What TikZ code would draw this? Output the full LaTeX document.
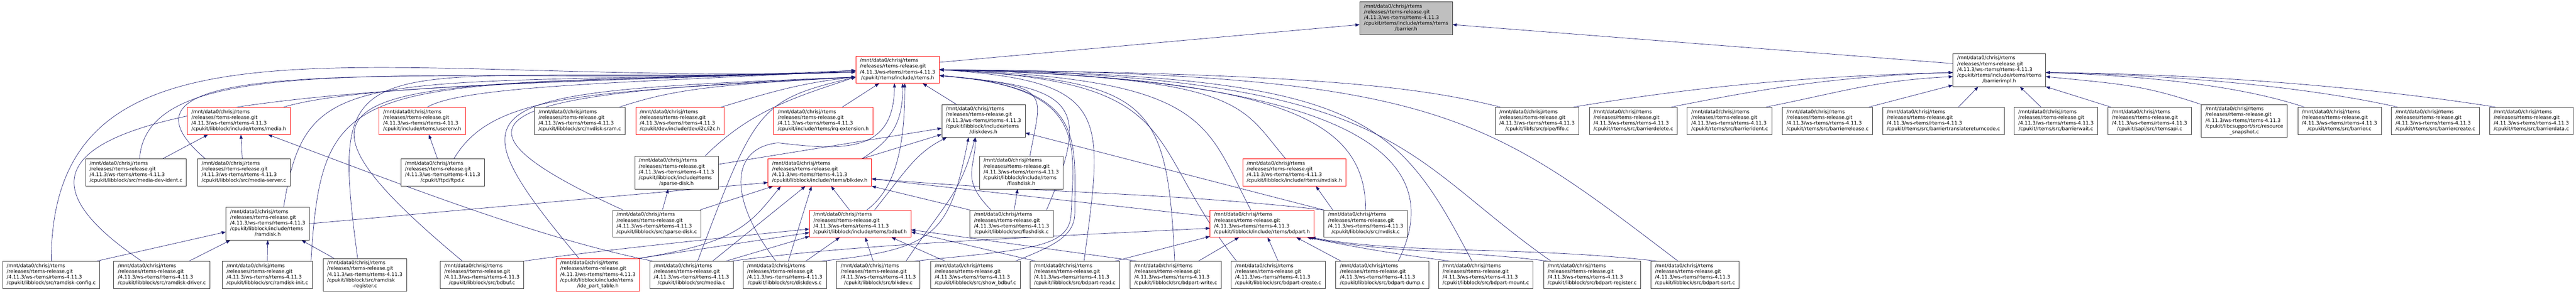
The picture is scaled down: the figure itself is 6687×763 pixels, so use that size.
\documentclass[tikz,border=0pt]{standalone}
\usepackage{fontspec}
\setmainfont{DejaVu Sans}
\usetikzlibrary{arrows.meta}

\definecolor{edgeblue}{HTML}{191970}
\definecolor{curgray}{HTML}{BFBFBF}
\pgfdeclarelayer{paper}
\pgfdeclarelayer{edges}
\pgfsetlayers{paper,edges,main}

% file label: three fixed lines, last line centred
\newcommand{\rtpath}[1]{\begin{tabular}{@{}l@{}}/mnt/data0/chrisj/rtems\\/releases/rtems-release.git\\/4.11.3/ws-rtems/rtems-4.11.3\\\multicolumn{1}{@{}c@{}}{#1}\end{tabular}}
\newcommand{\rtpathx}[2]{\begin{tabular}{@{}l@{}}/mnt/data0/chrisj/rtems\\/releases/rtems-release.git\\/4.11.3/ws-rtems/rtems-4.11.3\\#1\\\multicolumn{1}{@{}c@{}}{#2}\end{tabular}}

\tikzset{
  file/.style={draw=black!80, fill=white, rectangle, line width=0.75pt,
    inner xsep=8pt, inner ysep=4pt, font=\fontsize{9.6}{11.2}\selectfont},
  redfile/.style={file, draw=red},
  curfile/.style={file, fill=curgray},
  dep/.style={draw=edgeblue, line width=0.7pt, -{Triangle[length=8pt,width=6pt]}}
}

\begin{document}
\begin{tikzpicture}[x=0.75pt, y=0.75pt]
	\useasboundingbox (0,0) rectangle (6687,763);
	\begin{pgfonlayer}{paper}
		\fill[white] (0,0) rectangle (6687,763);
	\end{pgfonlayer}
	% top
		\node[curfile] (barrier) at (3650,716) {\rtpathx{/cpukit/rtems/include/rtems/rtems}{/barrier.h}};
		\node[redfile] (rtemsh) at (2330,582) {\rtpath{/cpukit/rtems/include/rtems.h}};
		\node[file] (barrierimpl) at (5190,581) {\rtpathx{/cpukit/rtems/include/rtems/rtems}{/barrierimpl.h}};
	% second row
		\node[redfile] (mediah) at (620,449) {\rtpath{/cpukit/libblock/include/rtems/media.h}};
		\node[redfile] (userenv) at (1096,449) {\rtpath{/cpukit/include/rtems/userenv.h}};
		\node[file] (nvsram) at (1505,449) {\rtpath{/cpukit/libblock/src/nvdisk-sram.c}};
		\node[redfile] (i2c) at (1765,449) {\rtpath{/cpukit/dev/include/dev/i2c/i2c.h}};
		\node[redfile] (irqext) at (2137,449) {\rtpath{/cpukit/include/rtems/irq-extension.h}};
		\node[file] (diskdevsh) at (2553,449) {\rtpathx{/cpukit/libblock/include/rtems}{/diskdevs.h}};
		\node[file] (fifo) at (3990,449) {\rtpath{/cpukit/libfs/src/pipe/fifo.c}};
		\node[file] (bdelete) at (4240,449) {\rtpath{/cpukit/rtems/src/barrierdelete.c}};
		\node[file] (bident) at (4490,449) {\rtpath{/cpukit/rtems/src/barrierident.c}};
		\node[file] (brelease) at (4744,449) {\rtpath{/cpukit/rtems/src/barrierrelease.c}};
		\node[file] (btrans) at (5045,449) {\rtpath{/cpukit/rtems/src/barriertranslatereturncode.c}};
		\node[file] (bwait) at (5337,449) {\rtpath{/cpukit/rtems/src/barrierwait.c}};
		\node[file] (rtemsapi) at (5580,449) {\rtpath{/cpukit/sapi/src/rtemsapi.c}};
		\node[file] (rsnap) at (5826,449) {\rtpathx{/cpukit/libcsupport/src/resource}{\_snapshot.c}};
		\node[file] (bbarrier) at (6073,449) {\rtpath{/cpukit/rtems/src/barrier.c}};
		\node[file] (bcreate) at (6322,449) {\rtpath{/cpukit/rtems/src/barriercreate.c}};
		\node[file] (bdata) at (6571,449) {\rtpath{/cpukit/rtems/src/barrierdata.c}};
	% third row
		\node[file] (mdident) at (353,315) {\rtpath{/cpukit/libblock/src/media-dev-ident.c}};
		\node[file] (mserver) at (633,315) {\rtpath{/cpukit/libblock/src/media-server.c}};
		\node[file] (ftpd) at (1149,315) {\rtpath{/cpukit/ftpd/ftpd.c}};
		\node[file] (sparseh) at (1756,315) {\rtpathx{/cpukit/libblock/include/rtems}{/sparse-disk.h}};
		\node[redfile] (blkdevh) at (2128,315) {\rtpath{/cpukit/libblock/include/rtems/blkdev.h}};
		\node[file] (flashh) at (2651,315) {\rtpathx{/cpukit/libblock/include/rtems}{/flashdisk.h}};
		\node[redfile] (nvdiskh) at (3360,315) {\rtpath{/cpukit/libblock/include/rtems/nvdisk.h}};
	% fourth row
		\node[file] (ramdiskh) at (695,182) {\rtpathx{/cpukit/libblock/include/rtems}{/ramdisk.h}};
		\node[file] (sparsec) at (1705,182) {\rtpath{/cpukit/libblock/src/sparse-disk.c}};
		\node[redfile] (bdbufh) at (2233,182) {\rtpath{/cpukit/libblock/include/rtems/bdbuf.h}};
		\node[file] (flashc) at (2626,182) {\rtpath{/cpukit/libblock/src/flashdisk.c}};
		\node[redfile] (bdparth) at (3276,182) {\rtpath{/cpukit/libblock/include/rtems/bdpart.h}};
		\node[file] (nvdiskc) at (3545,182) {\rtpath{/cpukit/libblock/src/nvdisk.c}};
	% bottom row
		\node[file] (rdconfig) at (133,49) {\rtpath{/cpukit/libblock/src/ramdisk-config.c}};
		\node[file] (rddriver) at (420,49) {\rtpath{/cpukit/libblock/src/ramdisk-driver.c}};
		\node[file] (rdinit) at (694,49) {\rtpath{/cpukit/libblock/src/ramdisk-init.c}};
		\node[file] (rdreg) at (947,49) {\rtpathx{/cpukit/libblock/src/ramdisk}{-register.c}};
		\node[file] (bdbufc) at (1251,49) {\rtpath{/cpukit/libblock/src/bdbuf.c}};
		\node[redfile] (idepart) at (1552,49) {\rtpathx{/cpukit/libblock/include/rtems}{/ide\_part\_table.h}};
		\node[file] (mediac) at (1795,49) {\rtpath{/cpukit/libblock/src/media.c}};
		\node[file] (ddevc) at (2037,49) {\rtpath{/cpukit/libblock/src/diskdevs.c}};
		\node[file] (blkdevc) at (2280,49) {\rtpath{/cpukit/libblock/src/blkdev.c}};
		\node[file] (showbdbuf) at (2532,49) {\rtpath{/cpukit/libblock/src/show\_bdbuf.c}};
		\node[file] (bpread) at (2790,49) {\rtpath{/cpukit/libblock/src/bdpart-read.c}};
		\node[file] (bpwrite) at (3052,49) {\rtpath{/cpukit/libblock/src/bdpart-write.c}};
		\node[file] (bpcreate) at (3318,49) {\rtpath{/cpukit/libblock/src/bdpart-create.c}};
		\node[file] (bpdump) at (3588,49) {\rtpath{/cpukit/libblock/src/bdpart-dump.c}};
		\node[file] (bpmount) at (3857,49) {\rtpath{/cpukit/libblock/src/bdpart-mount.c}};
		\node[file] (bpreg) at (4133,49) {\rtpath{/cpukit/libblock/src/bdpart-register.c}};
		\node[file] (bpsort) at (4400,49) {\rtpath{/cpukit/libblock/src/bdpart-sort.c}};

	\begin{pgfonlayer}{edges}
	% into barrier.h
		\draw[dep] (rtemsh.10) -- (barrier.188);
		\draw[dep] (barrierimpl.172) -- (barrier.352);
	% into rtems.h from the left
		\draw[dep] (rdconfig.north) .. controls +(0,700) and +(-1250,-40) .. (rtemsh.183);
		\draw[dep] ([xshift=-39pt]rddriver.north) .. controls +(-668,450) and +(-1150,-40) .. (rtemsh.183);
		\draw[dep] ([xshift=7pt]mdident.north) .. controls +(20,300) and +(-1100,-40) .. (rtemsh.183);
		\draw[dep] ([xshift=-75pt]mserver.north) .. controls +(-350,300) and +(-1000,-40) .. (rtemsh.183);
		\draw[dep] ([xshift=87pt]mediah.north) .. controls +(200,60) and +(-700,-30) .. (rtemsh.181);
		\draw[dep] ([xshift=31pt]ramdiskh.north) .. controls +(60,380) and +(-1300,-40) .. (rtemsh.183);
		\draw[dep] ([xshift=85pt]rdinit.north) .. controls +(30,500) and +(-1300,-40) .. (rtemsh.183);
		\draw[dep] ([xshift=-14pt]rdreg.north) .. controls +(-80,600) and +(-1300,-40) .. (rtemsh.183);
		\draw[dep] ([xshift=-38pt]bdbufc.north) .. controls +(-600,500) and +(-1250,-40) .. (rtemsh.183);
		\draw[dep] ([xshift=10pt]userenv.north) .. controls +(100,60) and +(-500,-30) .. (rtemsh.181);
		\draw[dep] ([xshift=22pt]ftpd.north) .. controls +(100,170) and +(-700,-40) .. (rtemsh.190);
		\draw[dep] ([xshift=77pt]nvsram.north) .. controls +(150,50) and +(-350,-20) .. (rtemsh.190);
		\draw[dep] ([xshift=80pt]i2c.north) .. controls +(100,30) and +(-150,-15) .. (rtemsh.190);
		\draw[dep] ([xshift=56pt]sparseh.north) .. controls +(120,120) and +(-150,-50) .. (rtemsh.190);
		\draw[dep] ([xshift=-66pt]sparsec.north) .. controls +(-550,250) and +(-900,-40) .. (rtemsh.190);
		\draw[dep] ([xshift=-37pt]idepart.north) .. controls +(-350,420) and +(-1000,-40) .. (rtemsh.190);
		\draw[dep] ([xshift=12pt]mediac.north) .. controls +(150,400) and +(-250,-60) .. (rtemsh.190);
	% into rtems.h from below
		\draw[dep] ([xshift=-17pt]ddevc.north) .. controls +(-130,170) and (1900,380) .. (2020,392)
			.. controls (2200,370) and (2320,370) .. ([xshift=-6pt]rtemsh.south);
		\draw[dep] ([xshift=37pt]irqext.north) -- ([xshift=-36pt]rtemsh.south);
		\draw[dep] ([xshift=82pt]blkdevh.north) .. controls +(80,50) and +(0,-100) .. ([xshift=10pt]rtemsh.south);
		\draw[dep] ([xshift=13pt]bdbufh.north) .. controls +(80,60) and +(0,-150) .. ([xshift=14pt]rtemsh.south);
		\draw[dep] ([xshift=-53pt]diskdevsh.north) -- ([xshift=49pt]rtemsh.south);
	% into rtems.h from the right
		\draw[dep] ([xshift=17pt]flashh.north) .. controls +(30,170) and +(300,-30) .. (rtemsh.352);
		\draw[dep] ([xshift=68pt]flashc.north) .. controls +(120,280) and +(350,-30) .. (rtemsh.352);
		\draw[dep] ([xshift=69pt]blkdevc.north) .. controls +(300,30) and +(-10,-80) .. (2780,200)
			.. controls +(10,200) and +(380,-30) .. (rtemsh.352);
		\draw[dep] ([xshift=78pt]showbdbuf.north) .. controls +(100,40) and +(0,-60) .. (2790,210)
			.. controls +(0,200) and +(380,-30) .. (rtemsh.352);
		\draw[dep] ([xshift=18pt]bpread.north) .. controls +(50,380) and +(450,-30) .. (rtemsh.0);
		\draw[dep] ([xshift=-2pt]bpwrite.north) .. controls +(-20,420) and +(550,-30) .. (rtemsh.0);
		\draw[dep] ([xshift=-81pt]bpcreate.north) .. controls +(-250,320) and +(650,-30) .. (rtemsh.0);
		\draw[dep] ([xshift=-22pt]bdparth.north) .. controls +(-120,230) and +(700,-25) .. (rtemsh.0);
		\draw[dep] ([xshift=-17pt]nvdiskh.north) .. controls +(-120,140) and +(800,-20) .. (rtemsh.0);
		\draw[dep] (nvdiskc.north) .. controls +(0,230) and +(900,-20) .. (rtemsh.0);
		\draw[dep] ([xshift=31pt]bpdump.north) .. controls +(150,300) and +(1000,-20) .. (rtemsh.0);
		\draw[dep] ([xshift=-27pt]bpmount.north) .. controls +(-200,380) and +(1100,-15) .. (rtemsh.0);
		\draw[dep] ([xshift=-80pt]bpreg.north) .. controls +(-400,280) and +(1200,-15) .. (rtemsh.0);
		\draw[dep] ([xshift=-33pt]bpsort.north) .. controls +(-500,380) and +(1300,-10) .. (rtemsh.0);
		\draw[dep] ([xshift=-71pt]fifo.north) .. controls +(-200,50) and +(1000,-10) .. (rtemsh.0);
	% into barrierimpl.h
		\draw[dep] ([xshift=70pt]fifo.north) .. controls +(300,50) and +(-400,-10) .. (barrierimpl.183);
		\draw[dep] ([xshift=73pt]bdelete.north) .. controls +(250,50) and +(-300,-10) .. (barrierimpl.183);
		\draw[dep] ([xshift=70pt]bident.north) .. controls +(200,40) and +(-200,-10) .. (barrierimpl.188);
		\draw[dep] ([xshift=80pt]brelease.north) -- ([yshift=3pt]barrierimpl.south west);
		\draw[dep] ([xshift=29pt]btrans.north) -- ([xshift=-41pt]barrierimpl.south);
		\draw[dep] ([xshift=-29pt]bwait.north) -- ([xshift=40pt]barrierimpl.south);
		\draw[dep] ([xshift=-75pt]rtemsapi.north) -- (barrierimpl.south east);
		\draw[dep] ([xshift=-85pt]rsnap.north) .. controls +(-150,50) and +(200,-20) .. (barrierimpl.352);
		\draw[dep] ([xshift=-68pt]bbarrier.north) .. controls +(-150,50) and +(300,-10) .. (barrierimpl.357);
		\draw[dep] ([xshift=-73pt]bcreate.north) .. controls +(-200,45) and +(400,-8) .. (barrierimpl.357);
		\draw[dep] ([xshift=-69pt]bdata.north) .. controls +(-250,40) and +(500,-5) .. (barrierimpl.357);
	% media.h, ramdisk.h, userenv.h
		\draw[dep] ([xshift=52pt]mdident.north) -- ([xshift=-60pt]mediah.south);
		\draw[dep] ([xshift=-3pt]mserver.north) -- ([xshift=4pt]mediah.south);
		\draw[dep] ([xshift=-75pt]mediac.north) .. controls +(-300,60) and +(350,-131) .. ([xshift=57pt]mediah.south);
		\draw[dep] ([xshift=88pt]rdconfig.north) -- ([yshift=-16pt]ramdiskh.west);
		\draw[dep] ([xshift=53pt]rddriver.north) -- ([xshift=-73pt]ramdiskh.south);
		\draw[dep] (rdinit.north) -- (ramdiskh.south);
		\draw[dep] ([xshift=-60pt]rdreg.north) -- ([xshift=66pt]ramdiskh.south);
		\draw[dep] (ramdiskh.east) -- (blkdevh.191);
		\draw[dep] ([xshift=-10pt]ftpd.north) -- ([xshift=13pt]userenv.south);
	% sparse-disk, blkdev, bdbuf, diskdevs
		\draw[dep] ([xshift=11pt]sparsec.north) -- ([xshift=-16pt]sparseh.south);
		\draw[dep] ([xshift=84pt]sparsec.north) -- ([xshift=-91pt]blkdevh.south);
		\draw[dep] (sparseh.11) -- (diskdevsh.190);
		\draw[dep] ([xshift=81pt]idepart.north) .. controls +(250,40) and +(-80,-100) .. ([xshift=-76pt]blkdevh.south);
		\draw[dep] ([xshift=81pt]idepart.north) -- (bdbufh.190);
		\draw[dep] (bdbufc.north east) .. controls +(100,15) and +(-400,-40) .. (bdbufh.186);
		\draw[dep] ([xshift=41pt]mediac.north) -- ([xshift=-28pt]blkdevh.south);
		\draw[dep] ([xshift=67pt]mediac.north) -- ([yshift=2pt]bdbufh.south west);
		\draw[dep] ([xshift=78pt]mediac.north) .. controls +(300,40) and +(-600,-30) .. (bdparth.185);
		\draw[dep] ([xshift=7pt]ddevc.north) -- ([xshift=-16pt]blkdevh.south);
		\draw[dep] ([xshift=41pt]ddevc.north) -- ([xshift=-40pt]bdbufh.south);
		\draw[dep] ([xshift=70pt]ddevc.north) .. controls +(300,30) and +(-50,-250) .. ([xshift=-29pt]diskdevsh.south);
		\draw[dep] ([xshift=-10pt]blkdevc.north) -- ([xshift=10pt]bdbufh.south);
		\draw[dep] ([xshift=54pt]blkdevc.north) .. controls +(100,150) and +(-40,-150) .. ([xshift=-16pt]diskdevsh.south);
		\draw[dep] ([xshift=-59pt]showbdbuf.north) -- ([xshift=61pt]bdbufh.south);
		\draw[dep] ([xshift=-21pt]bdbufh.north) -- ([xshift=22pt]blkdevh.south);
		\draw[dep] ([xshift=28pt]bdbufh.north) .. controls +(80,100) and +(-80,-40) .. ([xshift=10pt]diskdevsh.south west);
		\draw[dep] ([xshift=82pt]blkdevh.north) -- ([yshift=6pt]diskdevsh.south west);
	% flashdisk, nvdisk, bdpart
		\draw[dep] ([xshift=5pt]flashc.north) -- ([xshift=-7pt]flashh.south);
		\draw[dep] ([xshift=-40pt]flashc.north) .. controls +(-80,80) and +(0,-80) .. ([xshift=-16pt]diskdevsh.south);
		\draw[dep] (flashc.north west) -- (blkdevh.south east);
		\draw[dep] ([xshift=-64pt]nvdiskc.north) -- ([xshift=42pt]nvdiskh.south);
		\draw[dep] (nvdiskc.north west) -- (diskdevsh.344);
		\draw[dep] (nvdiskc.north west) .. controls +(-400,45) and +(500,-40) .. (blkdevh.353);
		\draw[dep] ([yshift=14pt]bdparth.west) -- (blkdevh.353);
		\draw[dep] ([xshift=78pt]bpread.north) -- ([yshift=2pt]bdparth.south west);
		\draw[dep] ([xshift=44pt]bpwrite.north) -- ([xshift=-45pt]bdparth.south);
		\draw[dep] (bpcreate.north) -- ([xshift=11pt]bdparth.south);
		\draw[dep] ([xshift=-80pt]bpdump.north) -- ([xshift=67pt]bdparth.south);
		\draw[dep] ([xshift=-70pt]bpmount.north) .. controls +(-150,20) and +(150,-30) .. ([xshift=88pt]bdparth.south);
		\draw[dep] ([xshift=-85pt]bpreg.north) .. controls +(-250,30) and +(200,-40) .. ([xshift=92pt]bdparth.south);
		\draw[dep] ([xshift=-73pt]bpsort.north) .. controls +(-350,40) and +(250,-45) .. ([xshift=96pt]bdparth.south);
		\draw[dep] ([xshift=-76pt]bpread.north) -- ([yshift=-16pt]bdbufh.east);
		\draw[dep] ([xshift=-75pt]bpwrite.north) -- ([yshift=-12pt]bdbufh.east);
	\end{pgfonlayer}
\end{tikzpicture}
\end{document}
